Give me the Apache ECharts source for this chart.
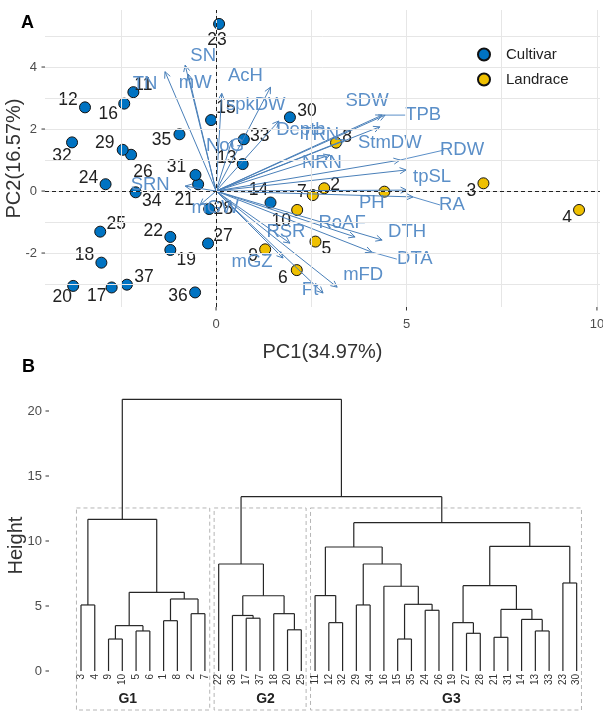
<!DOCTYPE html>
<html><head><meta charset="utf-8">
<script src="https://cdn.jsdelivr.net/npm/echarts@6/dist/echarts.min.js"></script>
<style>html,body{margin:0;padding:0;background:#fff}#c{width:603px;height:719px}</style>
</head><body><div id="c"></div>
<script>
// ---------------- DATA ----------------
// Panel A: PCA individuals
const cultivarIds = [11,12,13,14,15,16,17,18,19,20,21,22,23,24,25,26,27,28,29,30,31,32,33,34,35,36,37];
const cultivarPC1 = [-2.17,-3.44,0.70,1.43,-0.13,-2.41,-2.74,-3.01,-1.20,-3.75,-0.47,-1.20,0.08,-2.90,-3.04,-2.23,-0.21,-0.18,-2.45,1.94,-0.54,-3.78,0.73,-2.11,-0.96,-0.55,-2.34];
const cultivarPC2 = [3.19,2.70,0.87,-0.37,2.29,2.82,-3.11,-2.31,-1.90,-3.06,0.22,-1.48,5.39,0.22,-1.31,1.17,-1.69,-0.58,1.33,2.38,0.52,1.57,1.67,-0.04,1.83,-3.27,-3.02];
const landraceIds = [1,2,3,4,5,6,7,8,9,10];
const landracePC1 = [4.42,2.84,7.02,9.53,2.61,2.12,2.54,3.15,1.29,2.13];
const landracePC2 = [-0.02,0.09,0.25,-0.61,-1.63,-2.55,-0.13,1.56,-1.88,-0.61];
// Panel A: variable loadings (arrows)
const varNames = ['SN','mW','TN','AcH','spkDW','NoG','Depth','SDW','TPB','StmDW','TRN','NRN','RDW','tpSL','PH','RA','RoAF','DTH','DTA','RSR','mGZ','mFD','Ft','SRN','mGW'];
const varPC1 = [-0.81,-0.73,-1.34,1.43,0.15,0.42,1.65,4.36,4.44,4.30,3.39,2.99,4.83,4.99,5.01,5.17,3.65,4.36,4.09,1.94,1.76,3.18,2.81,-0.81,-0.42];
const varPC2 = [4.06,3.77,3.85,3.35,3.15,1.65,2.26,2.45,2.45,2.07,1.65,1.16,1.00,0.68,0.03,-0.19,-1.48,-1.58,-1.97,-1.68,-2.16,-3.10,-3.29,0.16,-0.45];
const groupNamesA = ['Cultivar','Landrace'];
const xTicksA = [0,5,10];
const yTicksA = [-2,0,2,4];
const xGridA = [-2.5,0,2.5,5,7.5,10];
const yGridA = [-3,-2,-1,0,1,2,3,4,5];
const xTitleA = 'PC1(34.97%)';
const yTitleA = 'PC2(16.57%)';

// Panel B: dendrogram, nested [height, left, right]; leaves are genotype ids
const dendG1 = [11.67, [5.08, 3, 4], [6.05, [3.49, [2.46, 9, 10], [3.08, 5, 6]], [5.54, [3.87, 1, 8], [4.41, 2, 7]]]];
const dendG2 = [8.23, 22, [5.79, [4.27, 36, [4.06, 17, 37]], [4.41, 18, [3.17, 20, 25]]]];
const dendG3 = [11.41,
  [9.54, [5.80, 11, [3.72, 12, 32]], [8.23, [5.08, 29, 34], [6.52, 16, [5.13, [2.46, 15, 35], [4.67, 24, 26]]]]],
  [9.59, [6.56, [3.72, 19, [2.90, 27, 28]], [4.74, [2.59, 21, 31], [3.97, 14, [3.08, 13, 33]]]], [6.77, 23, 30]]];
const dendRoot = [20.90, dendG1, [13.41, dendG2, dendG3]];
const clusterNames = ['G1','G2','G3'];
const yTicksB = [0,5,10,15,20];
const yTitleB = 'Height';

// ---------------- STYLE ----------------
const FONT = 'Liberation Sans, Arial, sans-serif';
const BLUE = '#0073C2', YELLOW = '#EFC000';
const ARROW = '#4a80b9', ARROW_TXT = '#5b8fc8';
const AXA = {xmin:-4.49, xmax:10.08, ymin:-3.74, ymax:5.84};
const AXB = {xmin:-2.324, xmax:37.55, ymin:-3.2, ymax:22.5};
const ptLabelOffset = {23:[-2,16],12:[-17,-7],16:[-16,11],11:[10,-7],15:[15,-12],35:[-18,6],32:[-10,14],29:[-18,-7],26:[12,17],33:[16,-3],13:[-16,-6],30:[17,-6],8:[11,-6],24:[-17,-6],34:[16,9],31:[-19,-8],21:[-14,16],28:[14,0],25:[16,-7],22:[-17,-6],19:[16,10],27:[15,-7],18:[-17,-7],20:[-11,11],17:[-15,9],37:[17,-8],36:[-17,4],14:[-12,-12],10:[-16,11],7:[-11,-3],2:[11,-3],3:[-12,8],4:[-12,8],5:[11,8],9:[-12,7],6:[-14,8]};
const hiddenPtLabel = {1:true};
const varLabelOffset = {SN:[18,-9],mW:[7,9],TN:[-20,12],AcH:[-25,-11],spkDW:[34,12],NoG:[-7,6],Depth:[22,9],SDW:[-15,-14],TPB:[38,0],StmDW:[10,16],TRN:[-25,-5],NRN:[-8,8],RDW:[62,-10],tpSL:[26,7],PH:[-35,13],RA:[39,8],RoAF:[-13,-14],DTH:[25,-8],DTA:[43,7],RSR:[-4,-11],mGZ:[-31,4],mFD:[26,-12],Ft:[-13,-3],SRN:[-35,-1],mGW:[15,3]};
const varLeader = {TPB:true,RDW:true,RA:true,DTA:true};
const clusterLabelShift = [-1.1,0.4,0.4];

// ---------------- BUILD ----------------
function mkPts(ids, xs, ys){
  return ids.map((id,i)=>{
    const off = ptLabelOffset[id] || [0,0];
    return {value:[xs[i], ys[i]], name:String(id),
      label:{show:!hiddenPtLabel[id], position:'inside', offset:off, formatter:String(id),
        color:'#222', fontSize:17.5, fontFamily:FONT}};
  });
}
const varData = varNames.map((n,i)=>[varPC1[i], varPC2[i], i]);

// dendrogram segments
const segs = []; const leaves = []; const heights = [];
function walk(n){
  if (typeof n === 'number'){ const x = leaves.length; leaves.push(n); return [x,0]; }
  const h = n[0]; const a = walk(n[1]), b = walk(n[2]); heights.push(h);
  segs.push([a[0],a[1],a[0],h],[a[0],h,b[0],h],[b[0],h,b[0],b[1]]);
  return [(a[0]+b[0])/2, h];
}
walk(dendRoot);
heights.sort((p,q)=>q-p);
const cutH = (heights[1]+heights[2])/2;
function leafRange(n){ if (typeof n==='number'){const i=leaves.indexOf(n);return [i,i];}
  const a=leafRange(n[1]), b=leafRange(n[2]); return [Math.min(a[0],b[0]), Math.max(a[1],b[1])]; }
const clusterRanges = [dendG1, dendG2, dendG3].map(leafRange);
const leafData = leaves.map((id,i)=>[i,0,id]);
const rectData = clusterRanges.map((r,i)=>[r[0]-0.33, r[1]+0.35, cutH, i]);

// tick marks: [value, axisType(0=x,1=y)]
const ticksA = xTicksA.map(v=>[v,0]).concat(yTicksA.map(v=>[v,1]));
const ticksB = yTicksB.map(v=>[v,1]);
function tickRender(ax){
  return function(params, api){
    const v = api.value(0), t = api.value(1);
    if (t === 0){ const p = api.coord([v, ax.ymin]);
      return {type:'line', shape:{x1:p[0],y1:p[1],x2:p[0],y2:p[1]+3.5}, style:{stroke:'#333', lineWidth:1}}; }
    const p = api.coord([ax.xmin, v]);
    return {type:'line', shape:{x1:p[0]-3.5,y1:p[1],x2:p[0],y2:p[1]}, style:{stroke:'#333', lineWidth:1}};
  };
}

const chart = echarts.init(document.getElementById('c'), null, {renderer:'canvas'});
const lblStyle = {color:'#4d4d4d', fontSize:13, fontFamily:FONT};

chart.setOption({
  animation:false,
  backgroundColor:'#fff',
  textStyle:{fontFamily:FONT},
  graphic:[
    {type:'text', left:21, top:14, style:{text:'A', font:'bold 18px '+FONT, fill:'#000'}},
    {type:'text', left:22, top:358, style:{text:'B', font:'bold 18px '+FONT, fill:'#000'}}
  ],
  legend:{
    data:groupNamesA, orient:'vertical', left:472, top:42, itemWidth:12, itemHeight:12, itemGap:10,
    icon:'circle', textStyle:{fontSize:15, color:'#222', fontFamily:FONT, padding:[0,0,0,11]}
  },
  grid:[
    {left:45, top:10, width:555, height:297, outerBoundsMode:'none', containLabel:false},
    {left:49, top:378.5, width:549, height:334.1, outerBoundsMode:'none', containLabel:false}
  ],
  xAxis:[
    {gridIndex:0, type:'value', min:AXA.xmin, max:AXA.xmax,
      axisLine:{show:false}, splitLine:{show:false}, axisTick:{show:false},
      axisLabel:Object.assign({customValues:xTicksA, margin:11}, lblStyle),
      name:xTitleA, nameLocation:'middle', nameGap:35, nameMoveOverlap:false,
      nameTextStyle:{fontSize:20, color:'#333', fontFamily:FONT}},
    {gridIndex:1, type:'value', min:AXB.xmin, max:AXB.xmax, show:false}
  ],
  yAxis:[
    {gridIndex:0, type:'value', min:AXA.ymin, max:AXA.ymax,
      axisLine:{show:false}, splitLine:{show:false}, axisTick:{show:false},
      axisLabel:Object.assign({customValues:yTicksA, margin:8}, lblStyle),
      name:yTitleA, nameLocation:'middle', nameGap:21, nameMoveOverlap:false,
      nameTextStyle:{fontSize:20, color:'#333', fontFamily:FONT}},
    {gridIndex:1, type:'value', min:AXB.ymin, max:AXB.ymax,
      axisLine:{show:false}, splitLine:{show:false}, axisTick:{show:false},
      axisLabel:Object.assign({customValues:yTicksB, margin:7}, lblStyle),
      name:yTitleB, nameLocation:'middle', nameGap:23, nameMoveOverlap:false,
      nameTextStyle:{fontSize:20, color:'#333', fontFamily:FONT}}
  ],
  series:[
    {type:'line', xAxisIndex:0, yAxisIndex:0, data:[], z:0, silent:true,
      markLine:{silent:true, symbol:'none', label:{show:false}, animation:false,
        lineStyle:{color:'#e6e6e6', width:1, type:'solid'},
        data: xGridA.map(v=>({xAxis:v})).concat(yGridA.map(v=>({yAxis:v})))}},
    {type:'line', xAxisIndex:0, yAxisIndex:0, data:[], z:1, silent:true,
      markLine:{silent:true, symbol:'none', label:{show:false}, animation:false,
        lineStyle:{color:'#222', width:1, type:[4,3]},
        data:[{xAxis:0},{yAxis:0}]}},
    {type:'custom', xAxisIndex:0, yAxisIndex:0, z:1, silent:true, clip:false, data:ticksA, renderItem:tickRender(AXA)},
    {type:'custom', xAxisIndex:1, yAxisIndex:1, z:1, silent:true, clip:false, data:ticksB, renderItem:tickRender(AXB)},
    {name:'Cultivar', type:'scatter', xAxisIndex:0, yAxisIndex:0, symbolSize:11, z:3,
      itemStyle:{color:BLUE, borderColor:'#111', borderWidth:1, opacity:1},
      data:mkPts(cultivarIds, cultivarPC1, cultivarPC2)},
    {name:'Landrace', type:'scatter', xAxisIndex:0, yAxisIndex:0, symbolSize:11, z:3,
      itemStyle:{color:YELLOW, borderColor:'#111', borderWidth:1, opacity:1},
      data:mkPts(landraceIds, landracePC1, landracePC2)},
    {type:'custom', xAxisIndex:0, yAxisIndex:0, z:4, silent:true, clip:false,
      data:varData,
      renderItem:function(params, api){
        const p0 = api.coord([0,0]); const p1 = api.coord([api.value(0), api.value(1)]);
        const name = varNames[api.value(2)];
        const ang = Math.atan2(p1[1]-p0[1], p1[0]-p0[0]);
        const L=7, a=Math.PI/7;
        const h1=[p1[0]-L*Math.cos(ang-a), p1[1]-L*Math.sin(ang-a)];
        const h2=[p1[0]-L*Math.cos(ang+a), p1[1]-L*Math.sin(ang+a)];
        const off = varLabelOffset[name] || [0,0];
        const ch = [
          {type:'line', shape:{x1:p0[0],y1:p0[1],x2:p1[0],y2:p1[1]}, style:{stroke:ARROW, lineWidth:1}},
          {type:'polyline', shape:{points:[h1,p1,h2]}, style:{stroke:ARROW, lineWidth:1, fill:null}},
          {type:'text', x:p1[0]+off[0], y:p1[1]+off[1], style:{text:name, fill:ARROW_TXT, fontSize:18.5, fontFamily:FONT, align:'center', verticalAlign:'middle'}}
        ];
        if (varLeader[name]) {
          const w = name.length*6;
          const lx = p1[0]+off[0] - (off[0]>0 ? w : -w);
          ch.push({type:'line', shape:{x1:p1[0],y1:p1[1],x2:lx,y2:p1[1]+off[1]}, style:{stroke:ARROW_TXT, lineWidth:1}});
        }
        return {type:'group', children:ch};
      }},
    // dendrogram
    {type:'custom', xAxisIndex:1, yAxisIndex:1, z:2, silent:true, clip:false,
      data:segs,
      renderItem:function(params, api){
        const a = api.coord([api.value(0), api.value(1)]);
        const b = api.coord([api.value(2), api.value(3)]);
        return {type:'line', shape:{x1:a[0],y1:a[1],x2:b[0],y2:b[1]}, style:{stroke:'#262626', lineWidth:1.2}};
      }},
    {type:'custom', xAxisIndex:1, yAxisIndex:1, z:2, silent:true, clip:false,
      data:leafData,
      renderItem:function(params, api){
        const p = api.coord([api.value(0), 0]);
        return {type:'text', x:p[0], y:p[1]+3, rotation:Math.PI/2,
          style:{text:String(api.value(2)), fill:'#333', fontSize:10, fontFamily:FONT, align:'right', verticalAlign:'middle'}};
      }},
    {type:'custom', xAxisIndex:1, yAxisIndex:1, z:1, silent:true, clip:false,
      data:rectData,
      renderItem:function(params, api){
        const tl = api.coord([api.value(0), api.value(2)]);
        const br = api.coord([api.value(1), 0]);
        const bottom = br[1] + 39;
        const gi = api.value(3);
        const r = clusterRanges[gi];
        const cx = api.coord([(r[0]+r[1])/2 + clusterLabelShift[gi], 0])[0];
        return {type:'group', children:[
          {type:'rect', shape:{x:tl[0], y:tl[1], width:br[0]-tl[0], height:bottom-tl[1]},
            style:{stroke:'#b5b5b5', lineWidth:1, fill:null, lineDash:[4,3]}},
          {type:'text', x:cx, y:bottom-11, style:{text:clusterNames[gi], fill:'#222', font:'bold 14px '+FONT, align:'center', verticalAlign:'middle'}}
        ]};
      }}
  ]
});
</script></body></html>
